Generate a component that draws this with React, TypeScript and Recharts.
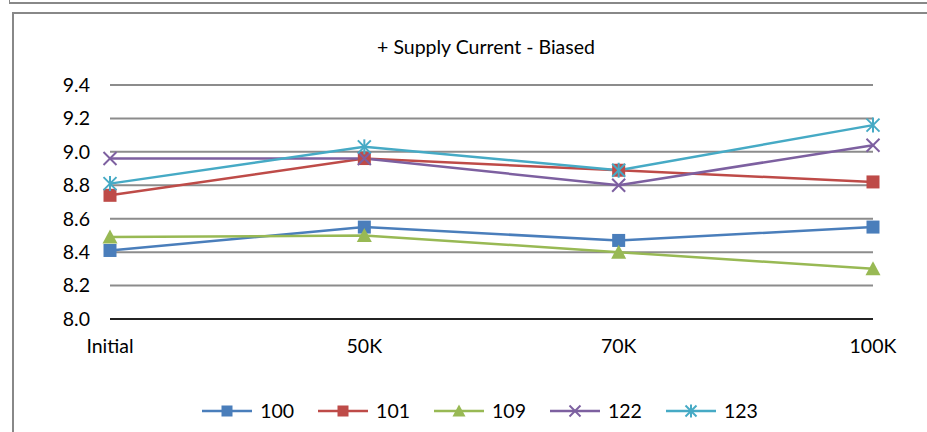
import React from "react";
import { LineChart, Line, XAxis, YAxis, CartesianGrid, Legend } from "recharts";

const stages = ["Initial", "50K", "70K", "100K"];
const unit100 = [8.41, 8.55, 8.47, 8.55];
const unit101 = [8.74, 8.96, 8.89, 8.82];
const unit109 = [8.49, 8.5, 8.4, 8.3];
const unit122 = [8.96, 8.96, 8.8, 9.04];
const unit123 = [8.81, 9.03, 8.89, 9.16];
const yTicks = [8.0, 8.2, 8.4, 8.6, 8.8, 9.0, 9.2, 9.4];

const data = stages.map((s, i) => ({
  stage: s,
  u100: unit100[i],
  u101: unit101[i],
  u109: unit109[i],
  u122: unit122[i],
  u123: unit123[i],
}));

const series = [
  { key: "u100", name: "100", color: "#4A7EBB", shape: "square" },
  { key: "u101", name: "101", color: "#BE4B48", shape: "square" },
  { key: "u109", name: "109", color: "#98B954", shape: "triangle" },
  { key: "u122", name: "122", color: "#7D60A0", shape: "x" },
  { key: "u123", name: "123", color: "#46AAC5", shape: "star" },
];

const font = "Lato, 'Open Sans', sans-serif";

function Marker({ cx, cy, shape, color, size = 13 }: any) {
  const h = size / 2;
  if (shape === "square") {
    return <rect x={cx - h} y={cy - h} width={size} height={size} fill={color} />;
  }
  if (shape === "triangle") {
    return (
      <polygon
        points={`${cx},${cy - h - 1} ${cx + h + 1},${cy + h} ${cx - h - 1},${cy + h}`}
        fill={color}
      />
    );
  }
  if (shape === "x") {
    return (
      <g stroke={color} strokeWidth={2}>
        <line x1={cx - h} y1={cy - h} x2={cx + h} y2={cy + h} />
        <line x1={cx - h} y1={cy + h} x2={cx + h} y2={cy - h} />
      </g>
    );
  }
  return (
    <g stroke={color} strokeWidth={2}>
      <line x1={cx - h} y1={cy - h} x2={cx + h} y2={cy + h} />
      <line x1={cx - h} y1={cy + h} x2={cx + h} y2={cy - h} />
      <line x1={cx} y1={cy - h - 1} x2={cx} y2={cy + h + 1} />
    </g>
  );
}

const makeDot = (shape: string, color: string) => (props: any) => {
  const { cx, cy, index } = props;
  if (cx == null || cy == null) return <g key={index} />;
  return <Marker key={index} cx={cx} cy={cy} shape={shape} color={color} />;
};

const LegendContent = () => (
  <div style={{ display: "flex", justifyContent: "center", fontFamily: font, fontSize: 19.5, color: "#000", lineHeight: "22px" }}>
    {series.map((s, i) => (
      <div key={s.key} style={{ display: "flex", alignItems: "center", marginRight: i < series.length - 1 ? 24 : 0 }}>
        <svg width={50} height={20}>
          <line x1={0} y1={10} x2={50} y2={10} stroke={s.color} strokeWidth={2.5} />
          <Marker cx={25} cy={10} shape={s.shape} color={s.color} size={11} />
        </svg>
        <span style={{ marginLeft: 8 }}>{s.name}</span>
      </div>
    ))}
  </div>
);

export default function App() {
  return (
    <div style={{ position: "fixed", left: 0, top: 0, width: 927, height: 432, background: "#fff", overflow: "hidden" }}>
      <div style={{ position: "absolute", left: 9, top: -2, width: 930, height: 4, borderLeft: "1px solid #888", borderBottom: "2px solid #888" }} />
      <div style={{ position: "absolute", left: 12, top: 12, width: 930, height: 440, borderLeft: "2px solid #888", borderTop: "2px solid #888" }} />
      <div style={{ position: "absolute", left: 0, top: 35, width: 972, textAlign: "center", fontFamily: font, fontSize: 19.5, color: "#000" }}>
        + Supply Current - Biased
      </div>
      <div style={{ position: "absolute", left: 0, top: 0 }}>
        <LineChart width={927} height={432} data={data} margin={{ top: 85, right: 54, bottom: 61, left: 50 }}>
          <CartesianGrid horizontal vertical={false} stroke="#8c8c8c" strokeWidth={2} />
          <XAxis
            dataKey="stage"
            tickLine={false}
            axisLine={{ stroke: "#000", strokeWidth: 1.5 }}
            tick={{ fill: "#000", fontSize: 19.5, fontFamily: font }}
            tickSize={0}
            tickMargin={20}
            height={30}
            interval={0}
          />
          <YAxis
            domain={[8.0, 9.4]}
            ticks={yTicks}
            tickFormatter={(v: number) => v.toFixed(1)}
            axisLine={false}
            tickLine={false}
            tickSize={0}
            tickMargin={20}
            width={60}
            tick={{ fill: "#000", fontSize: 19.5, fontFamily: font }}
          />
          <Legend content={<LegendContent />} wrapperStyle={{ top: 400, left: 0, width: 960 }} />
          {series.map((s) => (
            <Line
              key={s.key}
              type="linear"
              dataKey={s.key}
              name={s.name}
              stroke={s.color}
              strokeWidth={2.5}
              dot={makeDot(s.shape, s.color)}
              activeDot={false}
              isAnimationActive={false}
            />
          ))}
        </LineChart>
      </div>
    </div>
  );
}
